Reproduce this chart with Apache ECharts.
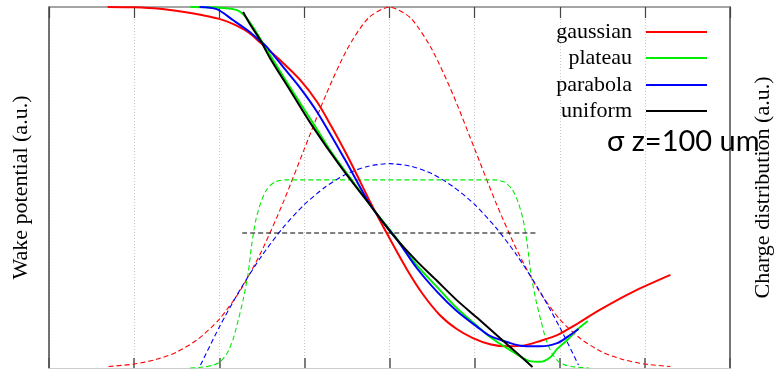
<!DOCTYPE html>
<html>
<head>
<meta charset="utf-8">
<script src="https://cdn.jsdelivr.net/npm/echarts@6/dist/echarts.min.js"></script>
<style>html,body{margin:0;padding:0;background:#fff}#c{width:774px;height:369px}</style>
</head>
<body>
<div id="c"></div>
<script>
// names
const shapes = ['gaussian', 'plateau', 'parabola', 'uniform'];
const colors = ['#ff0000', '#00ee00', '#0000ff', '#000000'];
const annotation = 'σ z=100 um';
// x in um (sigma_z = 100 um), values in a.u.
const gaussWakeX = [-331,-300,-270,-243,-219,-200,-184,-166,-152,-125,-105,-85,-68,-47,-21,1,21,39,59,79,98,118,138,157,177,197,216,247,286,330];
const gaussWakeY = [1.000,0.999,0.995,0.987,0.977,0.967,0.953,0.930,0.902,0.845,0.798,0.737,0.668,0.576,0.452,0.355,0.271,0.205,0.147,0.108,0.083,0.066,0.060,0.062,0.075,0.091,0.116,0.161,0.211,0.258];
const plateauWakeX = [-234,-205,-180,-168,-156,-141,-117,-90,-70,-46,-21,7,32,56,79,103,118,138,153,165,177,189,197,209,220,233];
const plateauWakeY = [1.000,0.999,0.992,0.970,0.928,0.870,0.778,0.679,0.604,0.526,0.446,0.363,0.285,0.224,0.166,0.116,0.086,0.055,0.033,0.019,0.017,0.030,0.053,0.078,0.105,0.130];
const parabolaWakeX = [-223,-203,-184,-166,-152,-144,-125,-105,-85,-52,-21,9,32,56,79,103,118,142,157,177,197,209,222];
const parabolaWakeY = [1.000,0.994,0.964,0.934,0.906,0.889,0.834,0.776,0.709,0.576,0.446,0.355,0.277,0.211,0.158,0.114,0.089,0.069,0.061,0.060,0.069,0.086,0.108];
const uniformWakeX = [-172,-164,-152,-141,-117,-90,-58,-21,6,32,56,79,103,138,168];
const uniformWakeY = [0.986,0.953,0.909,0.861,0.770,0.668,0.560,0.446,0.363,0.296,0.241,0.188,0.139,0.066,0.003];

const gaussChargeX = [-330,-300,-275,-250,-225,-200,-175,-150,-125,-100,-75,-50,-25,0,25,50,75,100,125,150,175,200,225,250,275,300,330];
const gaussChargeY = [0.004,0.011,0.023,0.044,0.080,0.135,0.216,0.325,0.458,0.607,0.755,0.882,0.969,1.000,0.969,0.882,0.755,0.607,0.458,0.325,0.216,0.135,0.080,0.044,0.023,0.011,0.004];
const plateauChargeX = [-234,-217,-207,-199,-191,-184,-178,-172,-166,-162,-157,-151,-144,-135,-123,123,135,144,151,157,162,166,172,178,184,191,199,207,217,234];
const plateauChargeY = [0,0.003,0.008,0.017,0.040,0.078,0.130,0.188,0.263,0.340,0.410,0.460,0.495,0.515,0.521,0.521,0.515,0.495,0.460,0.410,0.340,0.263,0.188,0.130,0.078,0.040,0.017,0.008,0.003,0];
const parabolaChargeX = [-222,-200,-175,-150,-125,-100,-75,-50,-25,0,25,50,75,100,125,150,175,200,222];
const parabolaChargeY = [0.008,0.113,0.219,0.311,0.389,0.453,0.502,0.538,0.559,0.566,0.559,0.538,0.502,0.453,0.389,0.311,0.219,0.113,0.008];
const uniformChargeX = [-173,173];
const uniformChargeY = [0.374,0.374];

const zip = (xs, ys) => xs.map((x, i) => [x, ys[i]]);
const wakes = [zip(gaussWakeX,gaussWakeY), zip(plateauWakeX,plateauWakeY), zip(parabolaWakeX,parabolaWakeY), zip(uniformWakeX,uniformWakeY)];
const charges = [zip(gaussChargeX,gaussChargeY), zip(plateauChargeX,plateauChargeY), zip(parabolaChargeX,parabolaChargeY), zip(uniformChargeX,uniformChargeY)];

const series = [];
charges.forEach((d, i) => series.push({
  name: shapes[i] + ' charge', type: 'line', data: d, yAxisIndex: 1, xAxisIndex: 0,
  symbol: 'none', smooth: 0.25,
  lineStyle: { color: colors[i], width: 1.1, type: [5, 3] }, itemStyle: { color: colors[i] }
}));
wakes.forEach((d, i) => series.push({
  name: shapes[i], type: 'line', data: d, yAxisIndex: 0, xAxisIndex: 0,
  symbol: 'none', smooth: 0.3,
  lineStyle: { color: colors[i], width: 2 }, itemStyle: { color: colors[i] }
}));

const legendRows = [32, 58, 85, 111];
const legends = shapes.map((s, i) => ({
  data: [s], right: 62, top: legendRows[i] - 16, align: 'right', orient: 'vertical',
  icon: 'rect', itemWidth: 61, itemHeight: 2,
  textStyle: { fontFamily: '"Liberation Serif", serif', fontSize: 22, color: '#000', padding: [0, 9, 0, 0] }
}));

const chart = echarts.init(document.getElementById('c'), null, { renderer: 'canvas' });
chart.setOption({
  animation: false,
  backgroundColor: '#fff',
  grid: { left: 49, right: 44, top: 7, bottom: 1, containLabel: false, outerBoundsMode: 'none' },
  legend: legends,
  xAxis: [
    { type: 'value', min: -400, max: 400, interval: 100, position: 'bottom',
      axisLine: { show: true, onZero: false, lineStyle: { color: '#cccccc', width: 1 } },
      axisTick: { show: true, inside: true, length: 10, lineStyle: { color: '#555', width: 1.5 } },
      axisLabel: { show: false },
      splitLine: { show: true, lineStyle: { color: '#c8c8c8', width: 1, type: [1, 2] } } },
    { type: 'value', min: -400, max: 400, interval: 100, position: 'top',
      axisLine: { show: true, onZero: false, lineStyle: { color: '#888', width: 1.5 } },
      axisTick: { show: true, inside: true, length: 11, lineStyle: { color: '#444', width: 1.2 } },
      axisLabel: { show: false }, splitLine: { show: false } }
  ],
  yAxis: [
    { type: 'value', min: 0, max: 1, position: 'left',
      name: 'Wake potential (a.u.)', nameLocation: 'middle', nameRotate: 90, nameGap: 17,
      nameTextStyle: { fontFamily: '"Liberation Serif", serif', fontSize: 22, color: '#000' },
      axisLine: { show: true, onZero: false, lineStyle: { color: '#444', width: 1.5 } },
      axisTick: { show: false }, axisLabel: { show: false }, splitLine: { show: false } },
    { type: 'value', min: 0, max: 1, position: 'right',
      name: 'Charge distribution (a.u.)', nameLocation: 'middle', nameRotate: 90, nameGap: 22,
      nameTextStyle: { fontFamily: '"Liberation Serif", serif', fontSize: 22, color: '#000' },
      axisLine: { show: true, onZero: false, lineStyle: { color: '#777', width: 2 } },
      axisTick: { show: false }, axisLabel: { show: false }, splitLine: { show: false } }
  ],
  graphic: [{
    type: 'text', left: 607, top: 127, z: 100,
    style: { text: annotation, font: '29px Lato, "DejaVu Sans", sans-serif', fill: '#000' }
  }],
  series: series
});
</script>
</body>
</html>
